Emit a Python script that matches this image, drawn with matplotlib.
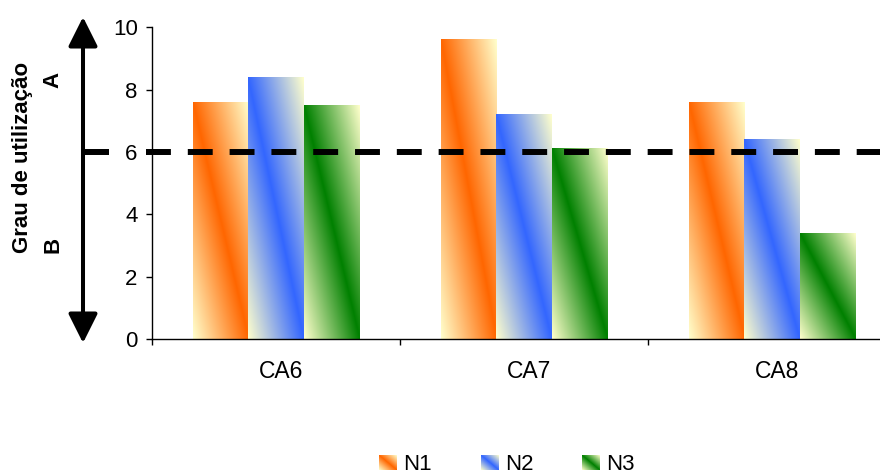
import numpy as np
import matplotlib
matplotlib.use("Agg")
import matplotlib.pyplot as plt
import matplotlib.colors as mcolors
from matplotlib.patches import FancyArrowPatch
from matplotlib.lines import Line2D
from matplotlib.legend_handler import HandlerBase
from matplotlib.image import BboxImage
from matplotlib.transforms import Bbox, TransformedBbox, blended_transform_factory

plt.rcParams['font.family'] = ['Liberation Sans', 'DejaVu Sans']

# --- data -------------------------------------------------------------
categories = ['CA6', 'CA7', 'CA8']
series_names = ['N1', 'N2', 'N3']
n1 = [7.6, 9.6, 7.6]
n2 = [8.4, 7.2, 6.4]
n3 = [7.5, 6.1, 3.4]
threshold = 6
y_ticks = [0, 2, 4, 6, 8, 10]

# --- styling ----------------------------------------------------------
series_colors = ['#FF6600', '#3366FF', '#008000']
pale = '#FFFFCC'
W, H = 880, 475


def gradient_image(color, n=96):
    """Diagonal two-sided gradient: full colour along the top-left to
    bottom-right diagonal, fading to pale yellow in the other corners."""
    c = np.array(mcolors.to_rgb(color))
    p = np.array(mcolors.to_rgb(pale))
    u = np.linspace(0, 1, n)
    v = np.linspace(1, 0, n)  # first row is the top
    U, V = np.meshgrid(u, v)
    d = np.clip(np.abs(U + V - 1), 0, 1)[..., None]
    return c * (1 - d) + p * d


class GradientHandler(HandlerBase):
    def __init__(self, img):
        super().__init__()
        self.img = img

    def create_artists(self, legend, orig_handle, xdescent, ydescent,
                       width, height, fontsize, trans):
        bb = TransformedBbox(Bbox.from_bounds(-xdescent, -ydescent, width, height), trans)
        im = BboxImage(bb, interpolation='bilinear', origin='upper')
        im.set_data(self.img)
        return [im]


fig = plt.figure(figsize=(W / 100, H / 100), dpi=100)
ax = fig.add_axes([152 / W, (H - 339) / H, 744 / W, (339 - 27.3) / H])

x = np.arange(len(categories))
bar_w = 2 / 9
containers = []
handlers = {}
for i, (vals, col) in enumerate(zip([n1, n2, n3], series_colors)):
    bars = ax.bar(x + (i - 1) * bar_w, vals, width=bar_w,
                  color='none', edgecolor='none', zorder=2, label=series_names[i])
    img = gradient_image(col)
    for b in bars:
        ax.imshow(img, extent=(b.get_x(), b.get_x() + b.get_width(), 0, b.get_height()),
                  aspect='auto', zorder=2, interpolation='bilinear')
    containers.append(bars)
    handlers[bars] = GradientHandler(img)

ax.set_xlim(-0.5, len(categories) - 0.5)
ax.set_ylim(0, 10)

# threshold line
ax.axhline(threshold, xmin=-6 / 744, xmax=1, color='black', lw=4.3,
           linestyle=(0, (4.17, 2.83)), clip_on=False, zorder=4)

# axes styling
for s in ['top', 'right']:
    ax.spines[s].set_visible(False)
for s in ['left', 'bottom']:
    ax.spines[s].set_linewidth(1.0)
ax.set_yticks(y_ticks)
ax.tick_params(axis='y', direction='out', length=4.3, width=1.0, labelsize=16, pad=6)
ax.set_xticks(np.arange(len(categories) + 1) - 0.5)
ax.tick_params(axis='x', which='major', direction='out', length=4.3, width=1.0,
               labelbottom=False)
ax.set_xticks(x + 0.02, categories, minor=True)
ax.tick_params(axis='x', which='minor', length=0, labelsize=16.5, pad=15)

# vertical double arrow with a mark at the threshold
arrow = FancyArrowPatch((83 / W, 1 - 343 / H), (83 / W, 1 - 17 / H),
                        transform=fig.transFigure,
                        arrowstyle='<|-|>,head_length=1.0,head_width=0.5',
                        mutation_scale=18, lw=2.9, color='black',
                        shrinkA=0, shrinkB=0)
fig.add_artist(arrow)
blend = blended_transform_factory(fig.transFigure, ax.transData)
fig.add_artist(Line2D([83 / W, 109 / W], [threshold, threshold], transform=blend,
                      lw=4.3, color='black', solid_capstyle='butt'))

fig.text(23 / W, 1 - 157 / H, 'Grau de utilização', rotation=90, fontsize=16,
         fontweight='bold', ha='center', va='center')
fig.text(53 / W, 1 - 80 / H, 'A', rotation=90, fontsize=16,
         fontweight='bold', ha='center', va='center')
fig.text(53 / W, 1 - 245 / H, 'B', rotation=90, fontsize=16,
         fontweight='bold', ha='center', va='center')

fig.legend(containers, series_names, loc='center', bbox_to_anchor=(507 / W, 1 - 465 / H),
           ncol=3, frameon=False, fontsize=16, handlelength=0.77, handleheight=0.6,
           handletextpad=0.32, columnspacing=2.2, handler_map=handlers)

fig.savefig('out.png', dpi=100)
